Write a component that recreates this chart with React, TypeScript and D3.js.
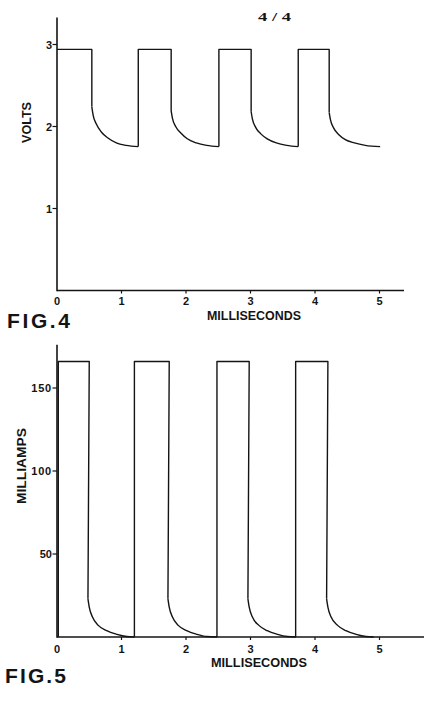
import React from "react";
import * as d3 from "d3";

// ---------- FIG.4 data (volts vs milliseconds) ----------
const voltTicks = [1, 2, 3];
const voltHigh = 2.94;
const voltRise = [0, 1.26, 2.51, 3.74];
const voltFall = [0.54, 1.77, 3.01, 4.22];
const voltDecay1: [number, number][] = [[0.54, 2.24], [0.56, 2.14], [0.61, 2.03], [0.69, 1.93], [0.79, 1.86], [0.92, 1.80], [1.07, 1.77], [1.26, 1.755]];
const voltDecay2: [number, number][] = [[1.77, 2.19], [1.79, 2.10], [1.84, 2.00], [1.92, 1.92], [2.02, 1.85], [2.16, 1.80], [2.32, 1.77], [2.51, 1.755]];
const voltDecay3: [number, number][] = [[3.01, 2.18], [3.03, 2.09], [3.08, 1.99], [3.16, 1.91], [3.26, 1.85], [3.40, 1.80], [3.56, 1.77], [3.74, 1.755]];
const voltDecay4: [number, number][] = [[4.22, 2.17], [4.24, 2.08], [4.29, 1.98], [4.37, 1.90], [4.47, 1.84], [4.61, 1.80], [4.78, 1.77], [5.01, 1.755]];
const voltDecays = [voltDecay1, voltDecay2, voltDecay3, voltDecay4];

// ---------- FIG.5 data (milliamps vs milliseconds) ----------
const ampTicks = [50, 100, 150];
const ampHigh = 166;
const ampRise = [0.02, 1.2, 2.48, 3.7];
const ampFall = [0.5, 1.74, 2.98, 4.2];
const ampDecay1: [number, number][] = [[0.48, 23], [0.5, 18], [0.55, 12], [0.64, 7], [0.77, 3.8], [0.93, 1.6], [1.08, 0.3], [1.2, 0]];
const ampDecay2: [number, number][] = [[1.72, 23], [1.74, 18], [1.79, 12], [1.88, 7], [2.01, 3.8], [2.17, 1.6], [2.32, 0.3], [2.48, 0]];
const ampDecay3: [number, number][] = [[2.96, 23], [2.98, 18], [3.03, 12], [3.13, 7], [3.26, 3.8], [3.42, 1.6], [3.57, 0.3], [3.7, 0]];
const ampDecay4: [number, number][] = [[4.18, 23], [4.2, 18], [4.25, 12], [4.35, 7], [4.48, 3.8], [4.64, 1.6], [4.79, 0.3], [4.91, 0]];
const ampDecays = [ampDecay1, ampDecay2, ampDecay3, ampDecay4];

const msTicks = [0, 1, 2, 3, 4, 5];

const INK = "#141414";
const SANS = "'Liberation Sans', Arial, sans-serif";

type ChartProps = {
  yScale: d3.ScaleLinear<number, number>;
  xMax: number;
  yMax: number;
  yTicks: number[];
  rise: number[];
  fall: number[];
  high: number;
  decays: [number, number][][];
  startLow: number;
  xLabelDy: number;
  titleX: [number, number];
  titleY: number;
};

const x = d3.scaleLinear().domain([0, 5]).range([57, 379.5]);

function Chart(p: ChartProps) {
  const y = p.yScale;
  const lin = d3.line<[number, number]>().x(d => x(d[0])).y(d => y(d[1]));
  const smooth = d3
    .line<[number, number]>()
    .x(d => x(d[0]))
    .y(d => y(d[1]))
    .curve(d3.curveMonotoneX);
  const y0 = y(0);
  const paths: string[] = [];
  p.rise.forEach((r, i) => {
    const prevLow = i === 0 ? p.startLow : p.decays[i - 1][p.decays[i - 1].length - 1][1];
    const pts: [number, number][] = [
      [r, prevLow],
      [r, p.high],
      [p.fall[i], p.high],
      p.decays[i][0],
    ];
    paths.push(lin(pts) as string);
    paths.push(smooth(p.decays[i]) as string);
  });
  return (
    <g>
      <line x1={x(0)} x2={x(p.xMax)} y1={y0} y2={y0} stroke={INK} strokeWidth={1.6} />
      <line x1={x(0)} x2={x(0)} y1={y0 + 0.8} y2={y(p.yMax)} stroke={INK} strokeWidth={1.6} />
      {msTicks.map(t => (
        <g key={"xt" + t}>
          {t > 0 && <line x1={x(t)} x2={x(t)} y1={y0} y2={y0 + 3} stroke={INK} strokeWidth={1.2} />}
          <text
            x={x(t)}
            y={y0 + p.xLabelDy}
            textAnchor="middle"
            fontFamily={SANS}
            fontWeight="bold"
            fontSize={11}
            fill={INK}
          >
            {t}
          </text>
        </g>
      ))}
      {p.yTicks.map(t => (
        <g key={"yt" + t}>
          <line x1={x(0) - 4.5} x2={x(0)} y1={y(t)} y2={y(t)} stroke={INK} strokeWidth={1.2} />
          <text
            x={x(0) - 5}
            y={y(t) + 4}
            textAnchor="end"
            fontFamily={SANS}
            fontWeight="bold"
            fontSize={11}
            letterSpacing={t >= 100 ? 0.8 : 0}
            fill={INK}
          >
            {t}
          </text>
        </g>
      ))}
      {paths.map((d, i) => (
        <path key={i} d={d} fill="none" stroke={INK} strokeWidth={1.4} strokeLinejoin="round" />
      ))}
      <text
        x={p.titleX[0]}
        y={p.titleY}
        textLength={p.titleX[1] - p.titleX[0]}
        lengthAdjust="spacingAndGlyphs"
        fontFamily={SANS}
        fontWeight="bold"
        fontSize={12.5}
        fill={INK}
      >
        MILLISECONDS
      </text>
    </g>
  );
}

export default function App() {
  const yVolts = d3.scaleLinear().domain([0, 3]).range([290.5, 44.5]);
  const yAmps = d3.scaleLinear().domain([0, 150]).range([637, 388]);
  return (
    <svg
      width={431}
      height={703}
      viewBox="0 0 431 703"
      style={{ position: "absolute", left: 0, top: 0, background: "#fff" }}
    >
      <rect width={431} height={703} fill="#fff" />
      <text
        x={258}
        y={20.5}
        textLength={33}
        lengthAdjust="spacingAndGlyphs"
        fontFamily="'Liberation Serif', serif"
        fontWeight="bold"
        fontSize={12}
        fill={INK}
      >
        4 / 4
      </text>
      <Chart
        yScale={yVolts}
        xMax={5.38}
        yMax={3.33}
        yTicks={voltTicks}
        rise={voltRise}
        fall={voltFall}
        high={voltHigh}
        decays={voltDecays}
        startLow={voltHigh}
        xLabelDy={14.5}
        titleX={[207, 301]}
        titleY={320}
      />
      <text
        transform="translate(30.5,122.5) rotate(-90)"
        textAnchor="middle"
        textLength={41}
        lengthAdjust="spacingAndGlyphs"
        fontFamily={SANS}
        fontWeight="bold"
        fontSize={12}
        fill={INK}
      >
        VOLTS
      </text>
      <text x={7} y={328} textLength={63} lengthAdjust="spacing" fontFamily={SANS} fontWeight="bold" fontSize={21} fill={INK}>
        FIG.4
      </text>

      <Chart
        yScale={yAmps}
        xMax={5.69}
        yMax={176}
        yTicks={ampTicks}
        rise={ampRise}
        fall={ampFall}
        high={ampHigh}
        decays={ampDecays}
        startLow={0}
        xLabelDy={16}
        titleX={[211, 307]}
        titleY={667}
      />
      <text
        transform="translate(26,466) rotate(-90)"
        textAnchor="middle"
        textLength={76}
        lengthAdjust="spacingAndGlyphs"
        fontFamily={SANS}
        fontWeight="bold"
        fontSize={12.5}
        fill={INK}
      >
        MILLIAMPS
      </text>
      <text x={5} y={683} textLength={61} lengthAdjust="spacing" fontFamily={SANS} fontWeight="bold" fontSize={21} fill={INK}>
        FIG.5
      </text>
    </svg>
  );
}
